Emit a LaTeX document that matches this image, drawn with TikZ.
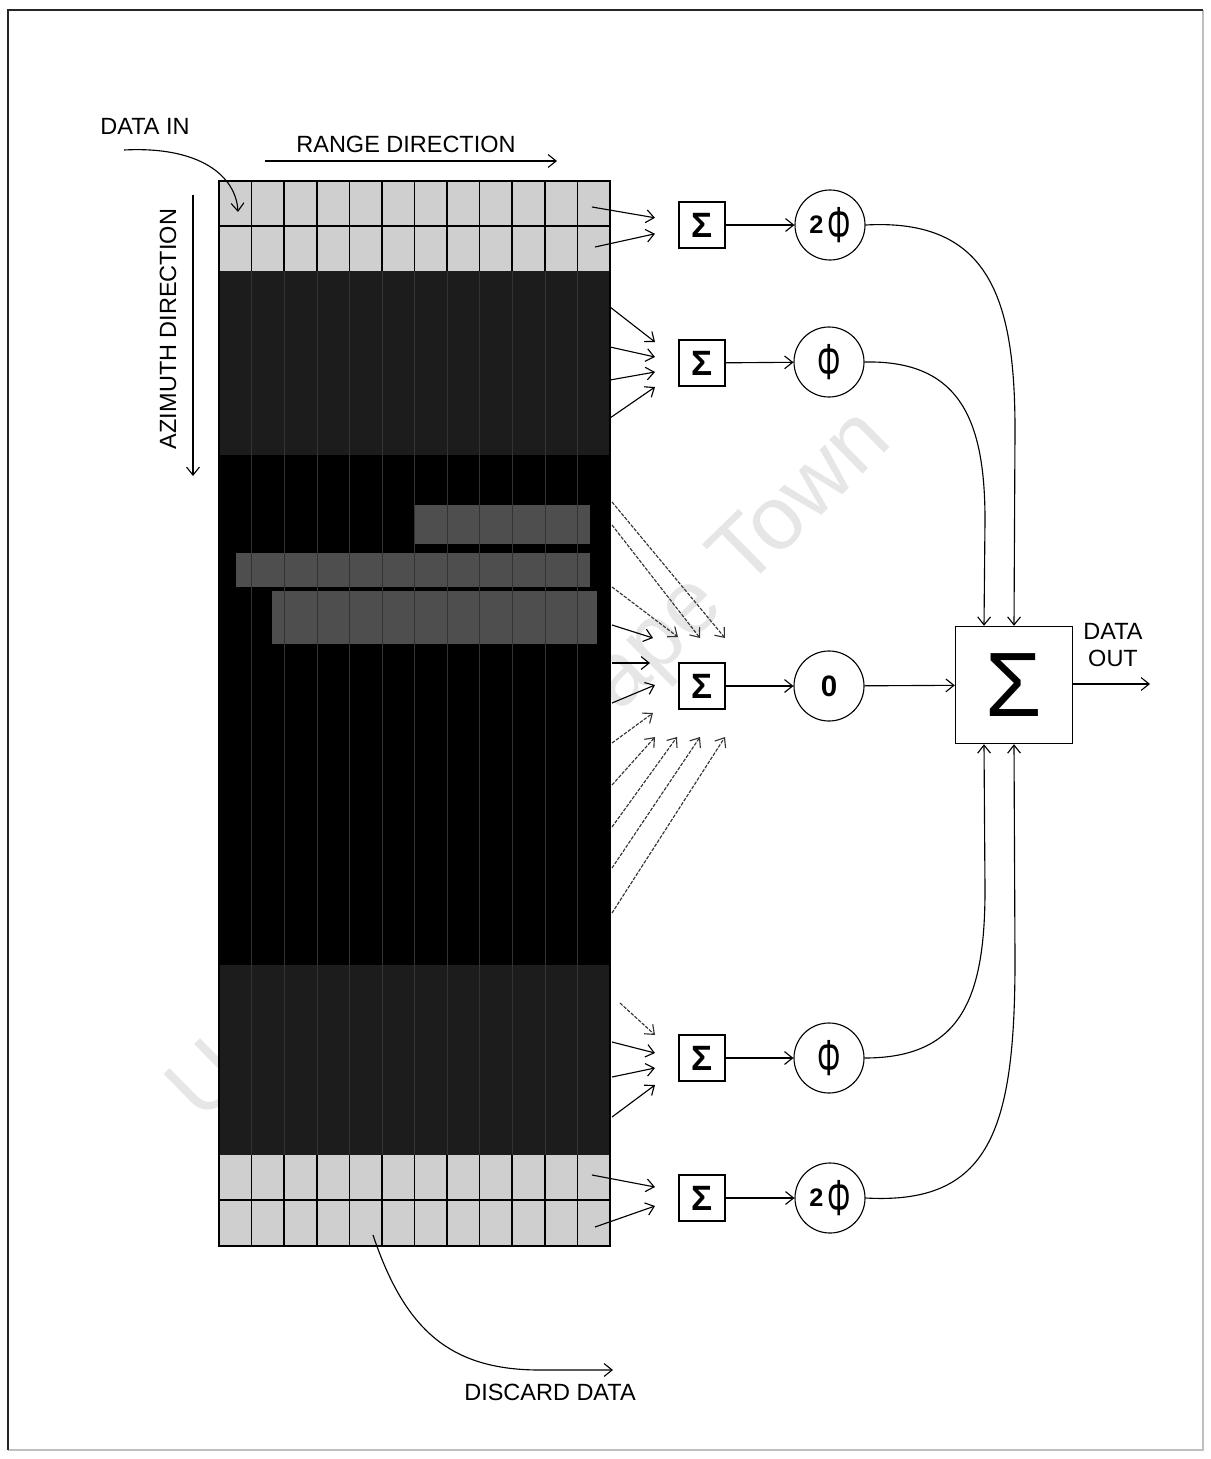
\documentclass[tikz,border=0pt]{standalone}
\usepackage{fontspec}
\setmainfont{Liberation Sans}
\usetikzlibrary{arrows.meta,calc}
\definecolor{cellgray}{HTML}{CFCFCF}
\definecolor{bandgray}{HTML}{1C1C1C}
\definecolor{patchgray}{HTML}{4E4E4E}
\definecolor{markgray}{HTML}{E6E6E6}
\newcommand{\phisym}{{\fontsize{36}{36}\selectfont\scalebox{0.58}[1]{Φ}}}
\newcommand{\twophi}{\raisebox{6pt}{\fontsize{18}{18}\selectfont\bfseries 2}\,\phisym}

\begin{document}
\begin{tikzpicture}[x=0.025cm, y=-0.025cm,
      >={Straight Barb[length=2mm,width=3.2mm]},
      every node/.style={font=\fontsize{16.7}{19}\selectfont},
      conn/.style={draw, line width=0.8pt},
      faint/.style={conn, dash pattern=on 2.5pt off 1pt, draw=black!80},
      sumbox/.style={draw, line width=1pt, fill=white, minimum size=1.15cm, inner sep=0pt,
                     font=\fontsize{25}{25}\selectfont\bfseries},
      phase/.style={draw, circle, line width=0.8pt, fill=white, minimum size=1.75cm, inner sep=0pt},
      bigsum/.style={draw, line width=1pt, fill=white, minimum size=2.925cm, inner sep=0pt,
                     font=\fontsize{65}{65}\selectfont}]

    \useasboundingbox (0,0) rectangle (1210,1459);
    % page frame
    \draw[black!25, line width=0.8pt] (1203,10) -- (1203,1450) -- (8,1450);
    \draw[black!85, line width=1pt] (8,1450) -- (8,10) -- (1203,10);

    % watermark (under everything)
    \node[text=markgray, rotate=44.5, font=\fontsize{64}{64}\selectfont] (mark) at (532,767) {University of Cape Town};

    % data block: 12 range cells, light rows top and bottom
    \fill[cellgray] (219,181) rectangle (610,271);
    \fill[bandgray] (219,271) rectangle (610,455);
    \fill[black] (219,455) rectangle (610,965);
    \fill[bandgray] (219,965) rectangle (610,1155);
    \fill[cellgray] (219,1155) rectangle (610,1246);
    \fill[patchgray] (415,505) rectangle (590,544);
    \fill[patchgray] (236,553) rectangle (590,587);
    \fill[patchgray] (272,591) rectangle (597,644);
    \foreach \i in {1,...,11} {
      \draw[black!80, line width=0.3pt] ({219+\i*32.583},271) -- ({219+\i*32.583},1155);
      \draw[line width=1.1pt] ({219+\i*32.583},181) -- ({219+\i*32.583},271);
      \draw[line width=1.1pt] ({219+\i*32.583},1155) -- ({219+\i*32.583},1246);
    }
    \draw[line width=1.1pt] (219,226) -- (610,226) (219,1200) -- (610,1200);
    \draw[line width=1.1pt] (219,181) rectangle (610,1246);

    % direction labels
    \node (datain) at (145,126) {DATA IN};
    \draw[conn, ->] (124,150) .. controls (200,146) and (236,176) .. (238,212);
    \node (range) at (406,144) {RANGE DIRECTION};
    \draw[conn, ->] (265,161) -- (557,161);
    \node[rotate=90] (azim) at (168,329) {AZIMUTH DIRECTION};
    \draw[conn, ->] (193,195) -- (193,476);
    \node (discard) at (550,1392) {DISCARD DATA};
    \draw[conn, ->] (373,1235) .. controls (405,1330) and (450,1370) .. (540,1370) -- (613,1370);

    % summers and phase shifts
    \node[sumbox] (s1) at (702,225) {Σ};
    \node[sumbox] (s2) at (702,363) {Σ};
    \node[sumbox] (s3) at (702,686) {Σ};
    \node[sumbox] (s4) at (702,1058) {Σ};
    \node[sumbox] (s5) at (702,1198) {Σ};
    \node[phase] (c1) at (830,225) {\twophi};
    \node[phase] (c2) at (829,362) {\phisym};
    \node[phase] (c3) at (829,686) {\fontsize{21}{21}\selectfont\bfseries 0};
    \node[phase] (c4) at (829,1058) {\phisym};
    \node[phase] (c5) at (830,1198) {\twophi};
    \node[bigsum] (sum) at (1014,685) {Σ};
    \foreach \k in {1,...,5} \draw[conn, ->] (s\k) -- (c\k);

    % cells into the summers
    \foreach \a/\b in {592/207, 595/247} \draw[conn, ->] (\a,\b) -- ($(s1)+(-47,{(\b-225)*0.4})$);
    \foreach \b/\e in {307/-21, 347/-6, 380/9, 418/24} \draw[conn, ->] (610,\b) -- ($(s2)+(-47,\e)$);
    \foreach \b/\ex/\ey in {502/23/-48, 525/-2/-48, 587/-24/-49, 743/-49/27, 785/-47/51, 827/-25/51, 868/-2/51, 913/23/51}
      \draw[faint, ->] (612,\b) -- ($(s3)+(\ex,\ey)$);
    \foreach \b/\ex/\ey in {625/-49/-48, 663/-52/-23, 703/-47/-1}
      \draw[conn, ->] (612,\b) -- ($(s3)+(\ex,\ey)$);
    \draw[faint, ->] (620,1003) -- ($(s4)+(-47,-23)$);
    \foreach \b/\e in {1042/-5, 1077/10, 1117/27} \draw[conn, ->] (612,\b) -- ($(s4)+(-47,\e)$);
    \foreach \a/\b/\e in {592/1175/-11, 595/1227/8} \draw[conn, ->] (\a,\b) -- ($(s5)+(-47,\e)$);

    % phases into the final sum
    \draw[conn, ->] (c1.east) .. controls (990,218) and (1015,300) .. (1015,430) -- (sum.north);
    \draw[conn, ->] (c2.east) .. controls (960,360) and (985,420) .. (985,520) -- ($(sum.north)+(-30,0)$);
    \draw[conn, ->] (c3) -- (sum);
    \draw[conn, ->] (c4.east) .. controls (960,1058) and (985,1000) .. (985,890) -- ($(sum.south)+(-30,0)$);
    \draw[conn, ->] (c5.east) .. controls (990,1205) and (1015,1130) .. (1015,960) -- (sum.south);

    % output
    \coordinate (out) at (1150,684);
    \draw[conn, ->] (sum.east |- out) -- (out);
    \node[align=center] (dataout) at (1113,645) {DATA\\OUT};
  \end{tikzpicture}
\end{document}
